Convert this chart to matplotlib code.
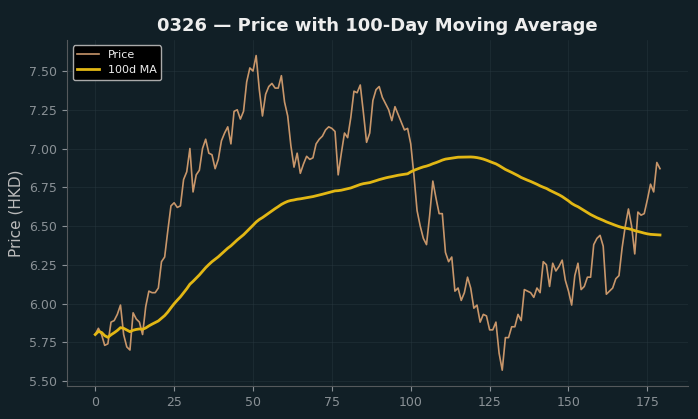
import numpy as np
import pandas as pd
import matplotlib
matplotlib.use('Agg')
import matplotlib.pyplot as plt

ticker = '0326'
window = 100

price = [5.80, 5.84, 5.80, 5.73, 5.74, 5.88, 5.89, 5.93, 5.99, 5.80,
         5.72, 5.70, 5.94, 5.90, 5.88, 5.80, 5.98, 6.08, 6.07, 6.07,
         6.10, 6.27, 6.30, 6.47, 6.63, 6.65, 6.62, 6.63, 6.80, 6.85,
         7.00, 6.72, 6.83, 6.86, 7.00, 7.06, 6.97, 6.96, 6.87, 6.93,
         7.05, 7.10, 7.14, 7.03, 7.24, 7.25, 7.19, 7.24, 7.43, 7.52,
         7.50, 7.60, 7.38, 7.21, 7.35, 7.40, 7.42, 7.39, 7.39, 7.47,
         7.30, 7.21, 7.02, 6.88, 6.97, 6.84, 6.90, 6.95, 6.93, 6.94,
         7.03, 7.06, 7.08, 7.12, 7.14, 7.13, 7.11, 6.83, 6.97, 7.10,
         7.07, 7.20, 7.37, 7.36, 7.41, 7.23, 7.04, 7.10, 7.31, 7.38,
         7.40, 7.33, 7.29, 7.25, 7.18, 7.27, 7.22, 7.17, 7.12, 7.13,
         7.03, 6.83, 6.60, 6.50, 6.42, 6.38, 6.57, 6.79, 6.68, 6.58,
         6.58, 6.33, 6.27, 6.30, 6.08, 6.10, 6.02, 6.07, 6.17, 6.10,
         5.97, 5.99, 5.88, 5.93, 5.92, 5.83, 5.83, 5.88, 5.68, 5.57,
         5.78, 5.78, 5.85, 5.85, 5.93, 5.89, 6.09, 6.08, 6.07, 6.04,
         6.10, 6.07, 6.27, 6.25, 6.11, 6.26, 6.21, 6.24, 6.28, 6.15,
         6.08, 5.99, 6.18, 6.26, 6.09, 6.11, 6.17, 6.17, 6.38, 6.42,
         6.44, 6.37, 6.06, 6.08, 6.10, 6.16, 6.18, 6.36, 6.50, 6.61,
         6.50, 6.32, 6.59, 6.57, 6.58, 6.67, 6.77, 6.72, 6.91, 6.87]

days = np.arange(len(price))
ma = pd.Series(price).rolling(window, min_periods=1).mean()

bg = '#111f26'
fig = plt.figure(figsize=(6.98, 4.19), dpi=100, facecolor=bg)
ax = fig.add_subplot(1, 1, 1, facecolor=bg)

ax.plot(days, price, color='#c8966a', lw=1.2, label='Price')
ax.plot(days, ma, color='#e2b714', lw=2.0, label='{:d}d MA'.format(window))

ax.set_title('{:s} — Price with {:d}-Day Moving Average'.format(ticker, window),
             color='#eeeeee', fontsize=13, fontweight='bold')
ax.set_ylabel('Price (HKD)', color='#bbbbbb', fontsize=11)
ax.yaxis.set_major_formatter(matplotlib.ticker.FormatStrFormatter('%.2f'))

ax.grid(True, color='#2a3a42', lw=0.5, alpha=0.6)
ax.tick_params(colors='#8a9196', labelsize=9)
for s in ['top', 'right']:
    ax.spines[s].set_visible(False)
for s in ['left', 'bottom']:
    ax.spines[s].set_color('#55595c')

leg = ax.legend(loc='upper left', facecolor='#000000', edgecolor='#aaaaaa',
                fontsize=8, framealpha=1.0)
for t in leg.get_texts():
    t.set_color('#eeeeee')

fig.subplots_adjust(left=0.096, right=0.986, top=0.905, bottom=0.079)
fig.savefig('out.png', dpi=100, facecolor=bg)
